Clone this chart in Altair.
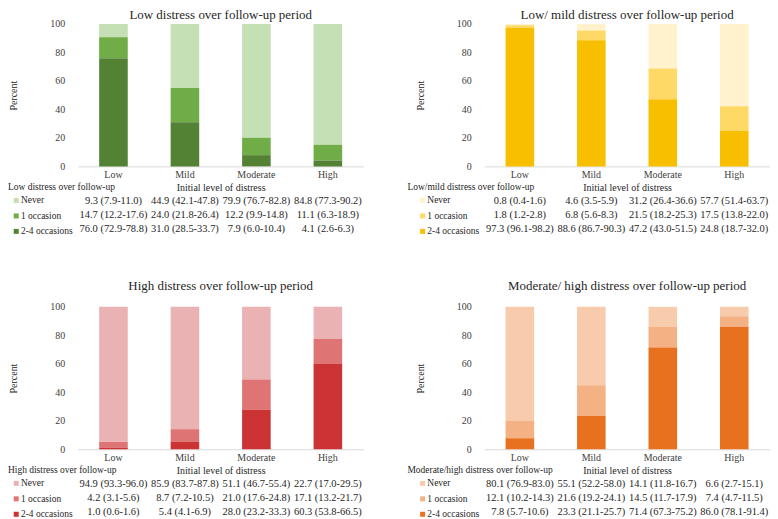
import altair as alt
import pandas as pd

FONT = "Liberation Serif"
TXT = "#262626"
LBL = "#404040"

levels = ["Low", "Mild", "Moderate", "High"]
outcomes = ["Never", "1 occasion", "2-4 occasions"]

# ---- Panel 1: Low distress ----
p1_title = "Low distress over follow-up period"
p1_legend = "Low distress over follow-up"
p1_colors = ["#c5e0b4", "#70ad47", "#548235"]
p1_never = [9.3, 44.9, 79.9, 84.8]
p1_never_lo = [7.9, 42.1, 76.7, 77.3]
p1_never_hi = [11.0, 47.8, 82.8, 90.2]
p1_one = [14.7, 24.0, 12.2, 11.1]
p1_one_lo = [12.2, 21.8, 9.9, 6.3]
p1_one_hi = [17.6, 26.4, 14.8, 18.9]
p1_two = [76.0, 31.0, 7.9, 4.1]
p1_two_lo = [72.9, 28.5, 6.0, 2.6]
p1_two_hi = [78.8, 33.7, 10.4, 6.3]

# ---- Panel 2: Low/mild distress ----
p2_title = "Low/ mild distress over follow-up period"
p2_legend = "Low/mild distress over follow-up"
p2_colors = ["#fff2cc", "#ffd966", "#f8bf00"]
p2_never = [0.8, 4.6, 31.2, 57.7]
p2_never_lo = [0.4, 3.5, 26.4, 51.4]
p2_never_hi = [1.6, 5.9, 36.6, 63.7]
p2_one = [1.8, 6.8, 21.5, 17.5]
p2_one_lo = [1.2, 5.6, 18.2, 13.8]
p2_one_hi = [2.8, 8.3, 25.3, 22.0]
p2_two = [97.3, 88.6, 47.2, 24.8]
p2_two_lo = [96.1, 86.7, 43.0, 18.7]
p2_two_hi = [98.2, 90.3, 51.5, 32.0]

# ---- Panel 3: High distress ----
p3_title = "High distress over follow-up period"
p3_legend = "High distress over follow-up"
p3_colors = ["#ebb2b3", "#de7474", "#cc3334"]
p3_never = [94.9, 85.9, 51.1, 22.7]
p3_never_lo = [93.3, 83.7, 46.7, 17.0]
p3_never_hi = [96.0, 87.8, 55.4, 29.5]
p3_one = [4.2, 8.7, 21.0, 17.1]
p3_one_lo = [3.1, 7.2, 17.6, 13.2]
p3_one_hi = [5.6, 10.5, 24.8, 21.7]
p3_two = [1.0, 5.4, 28.0, 60.3]
p3_two_lo = [0.6, 4.1, 23.2, 53.8]
p3_two_hi = [1.6, 6.9, 33.3, 66.5]

# ---- Panel 4: Moderate/high distress ----
p4_title = "Moderate/ high distress over follow-up period"
p4_legend = "Moderate/high distress over follow-up"
p4_colors = ["#f8cbad", "#f4b183", "#e8711f"]
p4_never = [80.1, 55.1, 14.1, 6.6]
p4_never_lo = [76.9, 52.2, 11.8, 2.7]
p4_never_hi = [83.0, 58.0, 16.7, 15.1]
p4_one = [12.1, 21.6, 14.5, 7.4]
p4_one_lo = [10.2, 19.2, 11.7, 4.7]
p4_one_hi = [14.3, 24.1, 17.9, 11.5]
p4_two = [7.8, 23.3, 71.4, 86.0]
p4_two_lo = [5.7, 21.1, 67.3, 78.1]
p4_two_hi = [10.6, 25.7, 75.2, 91.4]


def make_df(series):
    rows = []
    for k, (est, lo, hi) in enumerate(series):
        for j, lev in enumerate(levels):
            rows.append(dict(level=lev, outcome=outcomes[k], value=est[j],
                             stack=2 - k,
                             label=f"{est[j]:.1f} ({lo[j]:.1f}-{hi[j]:.1f})"))
    return pd.DataFrame(rows)


W, H = 287, 143


def panel(title, legend_title, colors, series, left_col, top_row):
    df = make_df(series)
    base = alt.Chart(df)
    xs = alt.Scale(paddingInner=0.6, paddingOuter=0.3)
    bars = base.mark_bar().encode(
        x=alt.X("level:N", sort=levels, scale=xs,
                axis=alt.Axis(title="Initial level of distress", labelAngle=0,
                              ticks=False, tickSize=0, labelPadding=3,
                              domainColor="#d9d9d9", titlePadding=3,
                              labelFont=FONT, labelFontSize=10, labelColor=LBL,
                              titleFont=FONT, titleFontSize=10, titleFontWeight="normal",
                              titleColor=TXT, grid=False)),
        y=alt.Y("value:Q", stack="zero",
                scale=alt.Scale(domain=[0, 100], nice=False),
                axis=alt.Axis(title="Percent", values=[0, 20, 40, 60, 80, 100],
                              ticks=False, tickSize=0, domain=False, grid=False,
                              labelPadding=13, titlePadding=31,
                              labelFont=FONT, labelFontSize=10, labelColor=LBL,
                              titleFont=FONT, titleFontSize=10, titleFontWeight="normal",
                              titleColor=TXT)),
        color=alt.Color("outcome:N", sort=outcomes,
                        scale=alt.Scale(domain=outcomes, range=colors),
                        legend=alt.Legend(title=legend_title, orient="none",
                                          legendX=-70 if left_col else -77,
                                          legendY=159, direction="vertical",
                                          symbolType="square", symbolSize=25,
                                          symbolStrokeWidth=0,
                                          symbolOffset=3.5 if left_col else 10.5,
                                          labelOffset=0,
                                          labelFont=FONT,
                                          labelFontSize=9.5, labelColor=TXT,
                                          titleFont=FONT, titleFontSize=9.5,
                                          titleFontWeight="normal", titleColor=TXT,
                                          titlePadding=4, rowPadding=4.5, padding=0,
                                          titleLimit=300, labelLimit=200)),
        order=alt.Order("stack:Q"),
    )
    text = base.mark_text(font=FONT, fontSize=10.5, color=TXT).encode(
        x=alt.X("level:N", sort=levels, scale=xs),
        y=alt.Y("outcome:N", sort=outcomes, axis=None,
                scale=alt.Scale(type="point", domain=outcomes,
                                range=[H + 35, H + 63], padding=0)),
        text="label:N",
    )
    return alt.layer(bars, text).resolve_scale(y="independent").properties(
        width=W, height=H,
        title=alt.TitleParams(title, font=FONT, fontSize=13, fontWeight="normal",
                              color=TXT, anchor="middle", frame="group",
                              offset=-3 if top_row else 9),
    )


c1 = panel(p1_title, p1_legend, p1_colors,
           [(p1_never, p1_never_lo, p1_never_hi), (p1_one, p1_one_lo, p1_one_hi),
            (p1_two, p1_two_lo, p1_two_hi)], True, True)
c2 = panel(p2_title, p2_legend, p2_colors,
           [(p2_never, p2_never_lo, p2_never_hi), (p2_one, p2_one_lo, p2_one_hi),
            (p2_two, p2_two_lo, p2_two_hi)], False, True)
c3 = panel(p3_title, p3_legend, p3_colors,
           [(p3_never, p3_never_lo, p3_never_hi), (p3_one, p3_one_lo, p3_one_hi),
            (p3_two, p3_two_lo, p3_two_hi)], True, False)
c4 = panel(p4_title, p4_legend, p4_colors,
           [(p4_never, p4_never_lo, p4_never_hi), (p4_one, p4_one_lo, p4_one_hi),
            (p4_two, p4_two_lo, p4_two_hi)], False, False)

chart = alt.concat(c1, c2, c3, c4, columns=2,
                   spacing={"row": 141, "column": 121},
                   bounds="flush").resolve_scale(
    color="independent", x="independent", y="independent"
).configure_view(stroke=None).properties(padding=0, background="white")

chart.save("out.html", embed_options={"renderer": "svg", "actions": False})
